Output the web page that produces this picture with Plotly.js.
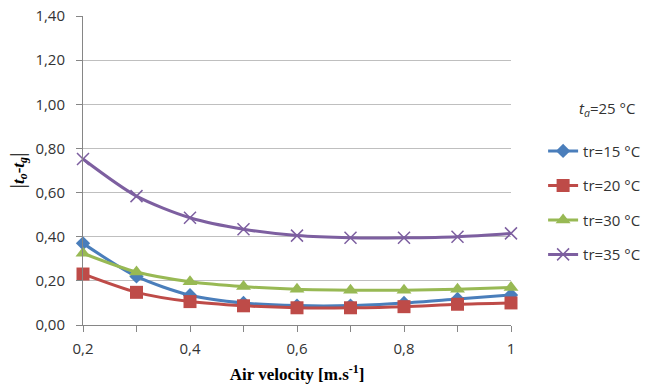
<!DOCTYPE html>
<html>
<head>
<meta charset="utf-8">
<script src="https://cdn.plot.ly/plotly-3.0.1.min.js"></script>
<style>html,body{margin:0;padding:0;background:#fff;}#chart{width:647px;height:390px;}</style>
</head>
<body>
<div id="chart"></div>
<script>
const airVelocity = [0.2, 0.3, 0.4, 0.5, 0.6, 0.7, 0.8, 0.9, 1.0];
const tr15 = [0.37, 0.22, 0.135, 0.10, 0.088, 0.088, 0.10, 0.118, 0.136];
const tr20 = [0.231, 0.148, 0.106, 0.087, 0.078, 0.078, 0.083, 0.094, 0.10];
const tr30 = [0.325, 0.24, 0.196, 0.174, 0.162, 0.158, 0.158, 0.162, 0.17];
const tr35 = [0.752, 0.584, 0.486, 0.434, 0.405, 0.395, 0.395, 0.40, 0.415];
const seriesNames = ["tr=15 °C", "tr=20 °C", "tr=30 °C", "tr=35 °C"];
const yTickVals = [0, 0.2, 0.4, 0.6, 0.8, 1.0, 1.2, 1.4];
const xTickVals = [0.2, 0.4, 0.6, 0.8, 1.0];
const xTickText = ["0,2", "0,4", "0,6", "0,8", "1"];

const colors = ["#4A7EBB", "#BE4B48", "#98B954", "#7D5FA0"];
const symbols = ["diamond", "square", "triangle-up", "x-thin-open"];
const sizes = [11, 13, 13, 12];
const seriesData = [tr15, tr20, tr30, tr35];

const traces = seriesData.map((ys, i) => ({
  x: airVelocity,
  y: ys,
  name: seriesNames[i],
  legendgroup: "g" + i,
  type: "scatter",
  mode: "lines+markers",
  line: {color: colors[i], width: 3, shape: "spline", smoothing: 0.8},
  marker: {color: colors[i], symbol: symbols[i], size: sizes[i],
           line: {color: colors[i], width: i === 3 ? 1.5 : 0}},
  cliponaxis: false
}));

const tickFont = {family: "Open Sans, sans-serif", size: 15, color: "#333"};

const layout = {
  width: 647, height: 390,
  margin: {l: 83, r: 136, t: 16, b: 65, autoexpand: false},
  paper_bgcolor: "#fff", plot_bgcolor: "#fff",
  separators: ",.",
  showlegend: true,
  xaxis: {
    range: [0.2, 1.0],
    tickvals: xTickVals,
    ticktext: xTickText,
    ticks: "outside", ticklen: 6, tickcolor: "#868686",
    ticklabelstandoff: 4,
    minor: {dtick: 0.1, tick0: 0.2, ticks: "outside", ticklen: 6, tickcolor: "#868686", showgrid: false},
    showgrid: false, zeroline: false, automargin: false,
    showline: true, linecolor: "#868686", linewidth: 1,
    tickfont: tickFont,
    title: {text: "<b>Air velocity [m.s<sup>-1</sup>]</b>", font: {family: "Liberation Serif, Times New Roman, serif", size: 17, color: "#000"}, standoff: 11}
  },
  yaxis: {
    range: [0, 1.4],
    tickvals: yTickVals,
    tickformat: ".2f",
    ticks: "outside", ticklen: 6, tickcolor: "#868686",
    ticklabelstandoff: 8,
    showgrid: true, gridcolor: "#BFBFBF", gridwidth: 1,
    zeroline: false, automargin: false,
    showline: true, linecolor: "#868686", linewidth: 1,
    tickfont: tickFont,
    title: {text: "<span style=\"font-size:22px;font-weight:normal\">|</span><b><i>t</i><sub><i>o</i></sub>-<i>t</i><sub><i>g</i></sub></b><span style=\"font-size:22px;font-weight:normal\">|</span>", font: {family: "Liberation Serif, Times New Roman, serif", size: 17, color: "#000"}, standoff: 6}
  },
  legend: {
    x: 1.075, xanchor: "left",
    y: 0.396, yanchor: "middle",
    traceorder: "grouped",
    tracegroupgap: 12,
    font: {family: "Open Sans, sans-serif", size: 15, color: "#333"},
    bgcolor: "rgba(0,0,0,0)",
    itemwidth: 30
  },
  annotations: [{
    xref: "paper", yref: "paper",
    x: (577 - 83) / 428, xanchor: "left",
    y: (325 - 109) / 309, yanchor: "middle",
    text: "<i>t</i><sub><i>a</i></sub>=25 °C",
    showarrow: false,
    font: {family: "Open Sans, sans-serif", size: 15, color: "#333"}
  }]
};

Plotly.newPlot("chart", traces, layout, {displayModeBar: false, staticPlot: true});
</script>
</body>
</html>
